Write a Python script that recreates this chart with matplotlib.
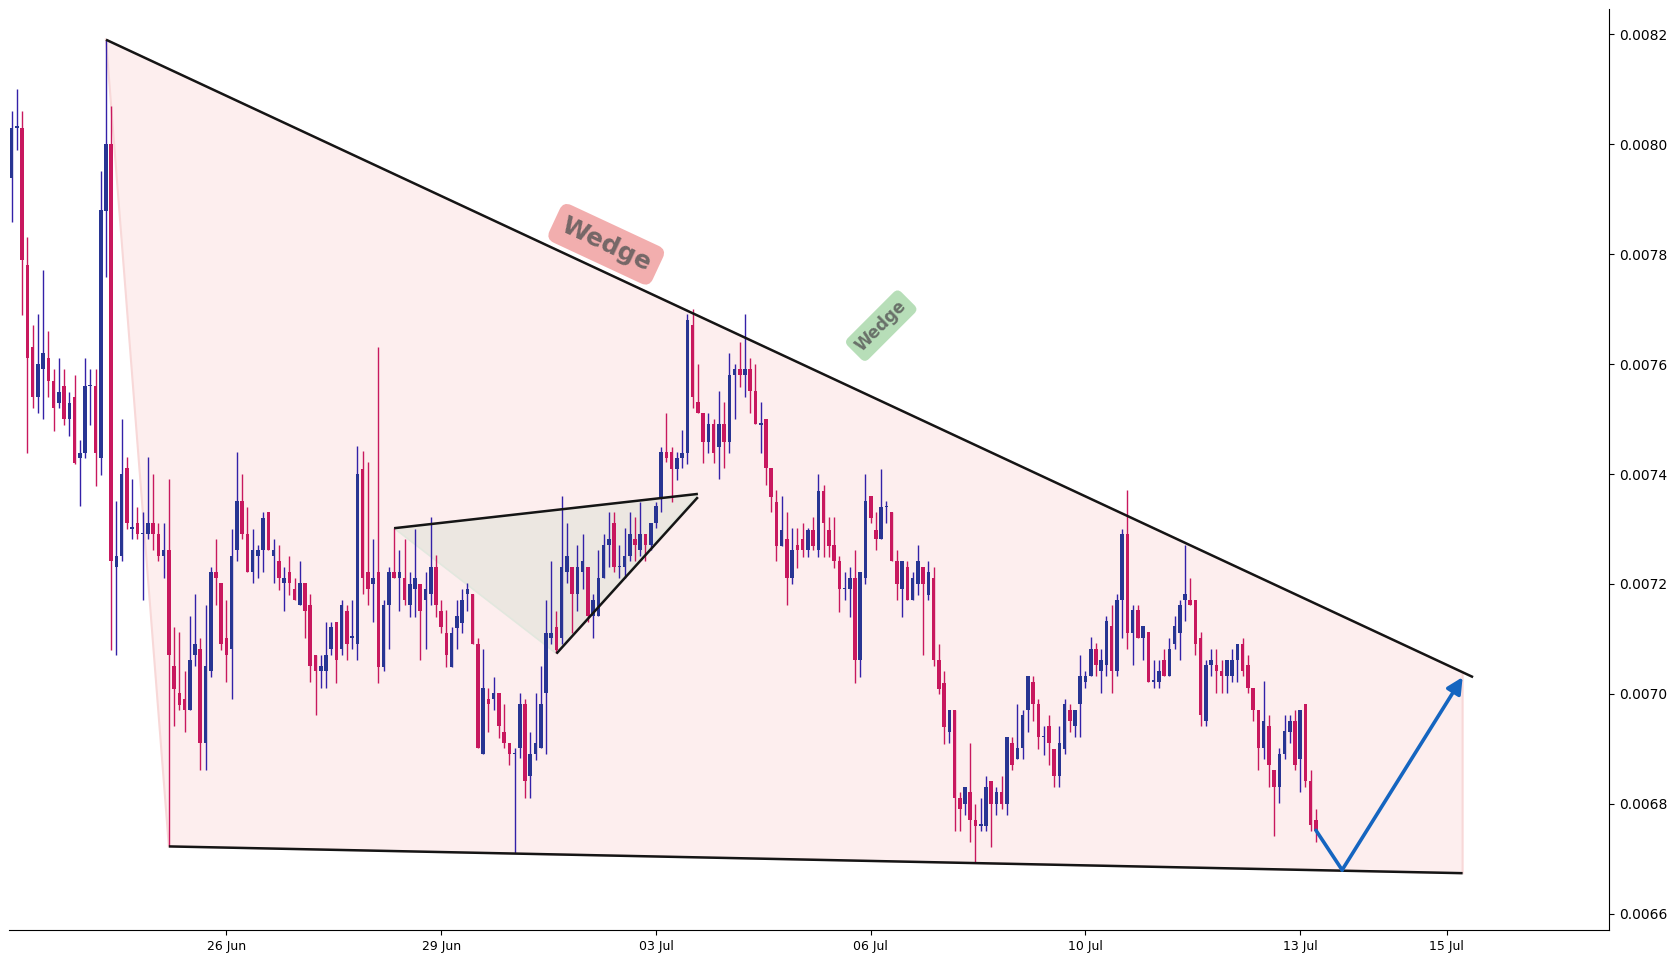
import numpy as np
import matplotlib
matplotlib.use("Agg")
import matplotlib.pyplot as plt
from matplotlib.ticker import FixedLocator, FormatStrFormatter

# candle prices, in units of 1e-4
opens_e4 = [
    79.39, 80.30, 80.30, 77.81, 76.31, 75.40, 75.91, 76.11, 75.70, 75.30,
    75.61, 75.00, 75.40, 74.30, 74.39, 75.60, 75.61, 74.30, 78.79, 80.01,
    72.31, 72.50, 74.11, 73.00, 73.11, 72.91, 72.91, 73.11, 72.91, 72.50,
    72.61, 70.51, 70.02, 69.91, 69.70, 70.70, 70.82, 69.11, 70.41, 72.22,
    72.02, 71.02, 70.82, 72.61, 73.51, 72.91, 72.22, 72.51, 72.61, 73.31,
    72.51, 72.41, 72.02, 72.22, 71.91, 71.61, 72.02, 71.62, 70.71, 70.41,
    70.41, 70.81, 71.31, 70.81, 71.50, 71.02, 70.91, 74.10, 72.22, 71.99,
    72.22, 70.49, 71.61, 72.22, 72.10, 72.11, 71.61, 71.90, 72.00, 71.70,
    71.81, 72.31, 71.50, 71.11, 70.49, 71.20, 71.29, 71.81, 71.81, 70.91,
    68.90, 69.91, 69.91, 70.01, 69.30, 69.10, 68.90, 69.01, 69.82, 68.50,
    68.91, 69.01, 70.01, 71.01, 71.21, 71.02, 72.21, 72.31, 71.82, 72.21,
    72.31, 71.41, 71.41, 72.11, 72.71, 73.11, 72.31, 72.31, 72.51, 72.82,
    72.62, 72.91, 72.71, 73.11, 73.56, 74.40, 74.40, 74.10, 74.30, 74.39,
    76.71, 75.31, 75.11, 74.59, 74.91, 74.50, 74.91, 74.59, 75.80, 75.91,
    75.80, 75.91, 75.51, 74.90, 75.00, 74.11, 73.50, 72.69, 72.81, 72.10,
    72.71, 72.81, 72.61, 72.99, 72.61, 73.70, 72.99, 72.71, 72.41, 71.90,
    71.90, 72.10, 70.61, 72.10, 73.60, 72.99, 72.81, 73.40, 73.31, 72.41,
    71.90, 72.31, 71.70, 72.00, 72.31, 71.80, 72.10, 70.61, 70.20, 69.30,
    69.71, 68.11, 68.00, 68.21, 67.71, 67.60, 67.60, 68.41, 68.00, 68.21,
    68.00, 69.11, 68.81, 69.01, 69.71, 70.21, 69.81, 69.21, 69.41, 69.00,
    68.51, 69.00, 69.71, 69.42, 69.81, 70.21, 70.32, 70.82, 70.41, 70.52,
    71.23, 70.41, 71.71, 72.91, 71.11, 71.52, 71.01, 71.12, 70.22, 70.21,
    70.62, 70.32, 70.91, 71.11, 71.71, 71.71, 71.71, 71.01, 69.50, 70.52,
    70.52, 70.42, 70.32, 70.32, 70.62, 70.91, 70.52, 70.11, 69.71, 69.01,
    69.42, 68.62, 68.31, 68.91, 69.30, 69.51, 68.81, 69.81, 68.42, 67.71,
]
highs_e4 = [
    80.61, 81.00, 80.61, 78.32, 76.72, 76.92, 77.72, 76.61, 75.91, 76.11,
    75.91, 75.50, 75.81, 74.61, 76.11, 75.91, 75.91, 79.52, 81.90, 80.70,
    73.51, 75.00, 74.31, 73.91, 73.40, 73.31, 74.31, 74.00, 73.11, 73.11,
    73.91, 71.22, 71.12, 70.42, 71.42, 71.82, 71.02, 71.62, 72.31, 72.82,
    72.02, 71.71, 73.00, 74.40, 74.00, 73.40, 73.00, 72.71, 73.31, 73.31,
    72.82, 72.71, 72.31, 72.51, 72.11, 72.41, 72.02, 71.82, 70.71, 70.70,
    71.31, 71.31, 71.31, 71.70, 71.61, 71.70, 74.51, 74.41, 74.21, 72.82,
    76.32, 71.70, 72.31, 73.02, 72.61, 72.82, 72.22, 73.00, 72.00, 72.22,
    73.21, 72.52, 71.70, 71.52, 71.22, 71.70, 71.90, 72.02, 71.81, 71.01,
    70.81, 70.11, 70.31, 70.01, 69.81, 69.10, 69.01, 70.01, 69.91, 69.31,
    70.01, 70.51, 71.71, 72.42, 71.51, 73.60, 73.11, 72.31, 72.71, 72.91,
    72.31, 71.82, 72.62, 72.91, 73.31, 73.31, 72.71, 73.01, 73.31, 73.21,
    73.50, 72.91, 73.11, 73.50, 74.50, 75.11, 74.50, 74.40, 74.80, 76.91,
    77.00, 76.00, 75.11, 75.11, 75.00, 75.51, 75.31, 76.20, 76.00, 76.40,
    76.91, 76.11, 76.00, 75.31, 75.00, 74.11, 73.71, 73.60, 73.31, 73.01,
    73.01, 73.11, 73.01, 73.21, 74.00, 73.80, 73.21, 73.21, 72.51, 72.21,
    72.31, 72.61, 72.21, 74.00, 73.60, 73.31, 74.10, 73.51, 73.31, 72.61,
    72.41, 72.41, 72.21, 72.71, 72.31, 72.41, 72.31, 70.91, 70.42, 69.71,
    69.71, 68.21, 68.31, 69.11, 68.00, 68.11, 68.51, 68.41, 68.31, 68.51,
    69.21, 69.21, 69.81, 69.71, 70.32, 70.32, 69.91, 69.41, 69.62, 69.00,
    69.41, 69.91, 69.81, 69.71, 70.71, 70.42, 71.03, 70.92, 70.82, 71.42,
    71.62, 71.81, 73.00, 73.71, 71.62, 71.62, 71.23, 71.12, 70.62, 70.62,
    70.82, 71.02, 71.42, 71.71, 72.71, 72.11, 71.71, 71.12, 70.62, 70.82,
    70.82, 70.62, 70.62, 70.82, 70.91, 71.01, 70.71, 70.11, 69.71, 70.23,
    69.62, 68.62, 69.01, 69.62, 69.62, 69.71, 69.71, 69.81, 68.62, 67.91,
]
lows_e4 = [
    78.59, 79.90, 76.90, 74.39, 75.20, 75.11, 75.00, 75.40, 74.79, 75.20,
    74.90, 74.70, 74.18, 73.42, 74.30, 74.90, 73.79, 73.99, 77.59, 70.80,
    70.70, 72.41, 73.00, 72.82, 72.82, 71.70, 72.82, 72.61, 72.41, 72.11,
    67.23, 69.41, 69.71, 69.30, 69.70, 70.50, 68.61, 68.61, 70.31, 71.61,
    70.80, 70.21, 69.91, 72.41, 72.82, 72.22, 72.02, 72.11, 72.22, 72.61,
    72.02, 71.89, 71.50, 71.80, 71.71, 71.61, 71.02, 70.21, 69.62, 70.11,
    70.11, 70.70, 70.20, 70.70, 70.61, 70.81, 70.61, 71.81, 71.61, 71.30,
    70.20, 70.41, 70.81, 72.10, 71.50, 71.61, 71.40, 71.40, 70.61, 70.81,
    71.61, 71.40, 71.11, 70.49, 70.49, 70.81, 71.11, 71.50, 70.91, 69.01,
    68.90, 69.30, 69.70, 69.20, 69.01, 68.70, 67.10, 68.83, 68.10, 68.10,
    68.80, 69.01, 68.91, 70.90, 70.74, 70.90, 72.02, 71.11, 71.51, 71.91,
    71.30, 71.02, 71.41, 72.11, 72.31, 72.21, 72.11, 72.11, 72.41, 72.41,
    72.51, 72.41, 72.62, 73.01, 73.31, 74.21, 73.50, 73.90, 74.11, 74.19,
    75.20, 75.11, 74.20, 74.39, 74.20, 73.91, 74.11, 74.39, 75.00, 75.59,
    75.40, 75.11, 74.91, 74.39, 73.80, 73.31, 72.41, 72.69, 71.61, 72.00,
    72.29, 72.49, 72.49, 72.61, 72.49, 72.49, 72.49, 72.29, 71.49, 71.70,
    71.40, 70.20, 70.30, 72.00, 73.10, 72.61, 72.81, 73.10, 72.41, 71.70,
    71.40, 71.70, 71.70, 71.80, 70.71, 71.70, 70.51, 70.00, 69.09, 69.11,
    67.50, 67.50, 67.80, 67.30, 66.93, 67.50, 67.50, 67.21, 67.80, 67.91,
    67.80, 68.61, 68.81, 68.81, 69.30, 69.50, 69.00, 68.89, 68.71, 68.31,
    68.31, 68.91, 69.30, 69.21, 69.21, 70.11, 70.32, 70.32, 70.01, 70.32,
    70.01, 70.32, 71.02, 70.81, 70.52, 71.01, 70.62, 70.21, 70.11, 70.11,
    70.32, 70.32, 70.81, 70.62, 71.32, 71.62, 70.71, 69.41, 69.41, 70.32,
    70.01, 70.01, 70.01, 70.21, 70.21, 70.32, 70.01, 69.50, 68.62, 68.81,
    68.31, 67.41, 68.01, 68.81, 69.11, 68.62, 68.21, 68.31, 67.50, 67.30,
]
closes_e4 = [
    80.29, 80.32, 77.90, 76.11, 75.40, 76.01, 76.21, 75.70, 75.20, 75.50,
    75.00, 75.30, 74.20, 74.39, 75.61, 75.62, 74.39, 78.81, 80.01, 72.41,
    72.51, 74.00, 73.11, 73.03, 72.91, 72.93, 73.11, 72.91, 72.50, 72.61,
    70.70, 70.09, 69.80, 69.70, 70.62, 70.91, 69.11, 70.51, 72.22, 72.11,
    70.90, 70.70, 72.51, 73.51, 72.91, 72.22, 72.61, 72.61, 73.20, 72.61,
    72.61, 72.11, 72.11, 72.02, 71.71, 72.02, 71.50, 70.51, 70.41, 70.51,
    70.70, 71.22, 70.61, 71.61, 70.91, 71.04, 74.00, 72.11, 71.90, 72.11,
    70.49, 71.61, 72.22, 72.10, 72.22, 71.70, 72.00, 72.11, 71.50, 71.90,
    72.31, 71.61, 71.22, 70.70, 71.11, 71.42, 71.70, 71.90, 70.91, 69.01,
    70.11, 69.81, 70.01, 69.42, 69.10, 68.90, 68.92, 69.81, 68.41, 68.91,
    69.11, 69.82, 71.10, 71.11, 70.80, 72.31, 72.51, 71.82, 72.31, 72.41,
    71.41, 71.71, 72.11, 72.71, 72.82, 72.31, 72.33, 72.51, 72.91, 72.71,
    72.91, 72.71, 73.11, 73.41, 74.40, 74.30, 74.10, 74.30, 74.39, 76.80,
    75.40, 75.11, 74.59, 74.91, 74.39, 74.91, 74.59, 75.80, 75.91, 75.80,
    75.91, 75.51, 74.91, 74.92, 74.11, 73.59, 72.69, 72.99, 72.10, 72.61,
    72.61, 72.61, 72.99, 72.69, 73.70, 73.10, 72.69, 72.41, 71.90, 71.92,
    72.10, 70.61, 72.21, 73.51, 73.20, 72.81, 73.40, 73.42, 72.41, 72.00,
    72.41, 71.70, 72.10, 72.41, 72.00, 72.21, 70.61, 70.09, 69.40, 69.71,
    68.11, 67.91, 68.31, 67.70, 67.60, 67.62, 68.31, 68.00, 68.21, 68.00,
    69.21, 68.71, 69.01, 69.62, 70.32, 69.81, 69.21, 69.22, 69.11, 68.51,
    69.11, 69.81, 69.50, 69.71, 70.32, 70.32, 70.82, 70.52, 70.62, 71.32,
    70.41, 71.71, 72.91, 71.11, 71.52, 71.01, 71.23, 70.21, 70.23, 70.42,
    70.32, 70.82, 71.23, 71.62, 71.81, 71.62, 70.91, 69.62, 70.52, 70.62,
    70.41, 70.32, 70.62, 70.62, 70.91, 70.41, 70.11, 69.71, 69.01, 69.51,
    68.71, 68.31, 68.91, 69.32, 69.51, 68.71, 69.71, 68.41, 67.61, 67.50,
]

date_ticks = [41, 82, 123, 164, 205, 246, 274]
date_labels = ["26 Jun", "29 Jun", "03 Jul", "06 Jul", "10 Jul", "13 Jul", "15 Jul"]

# pattern drawings: bar index / price (1e-4)
wedge_top_x = [18, 279]
wedge_top_y = [81.903, 70.304]
wedge_bot_x = [30, 277]
wedge_bot_y = [67.224, 66.737]
tri_top_x = [73, 131]
tri_top_y = [73.014, 73.638]
tri_bot_x = [104, 131]
tri_bot_y = [70.733, 73.579]
proj_x = [249, 254, 277]
proj_y = [67.517, 66.795, 70.304]

UP = "#283593"
UP_WICK = "#3321a8"
DOWN = "#c8185e"
E4 = 1e-4

fig = plt.figure(figsize=(16.8, 9.6), dpi=100)
ax = fig.add_axes([0.0051, 0.0313, 0.9528, 0.9597])

o = np.array(opens_e4) * E4
h = np.array(highs_e4) * E4
l = np.array(lows_e4) * E4
c = np.array(closes_e4) * E4
x = np.arange(len(o))
up = c >= o

# wedge area
fill_end = wedge_bot_x[1]
top_end = np.interp(fill_end, wedge_top_x, wedge_top_y)
ax.fill([wedge_top_x[0], fill_end, fill_end, wedge_bot_x[0]],
        np.array([wedge_top_y[0], top_end, wedge_bot_y[1], wedge_bot_y[0]]) * E4,
        facecolor="#fdeeee", edgecolor="#f8d8d8", lw=1.5, zorder=1)
# triangle area
ax.fill([tri_top_x[0], tri_top_x[1], tri_bot_x[0]],
        np.array([tri_top_y[0], tri_top_y[1], tri_bot_y[0]]) * E4,
        facecolor="#ece7e1", edgecolor="#e2e7de", lw=1.2, zorder=1.5)

# candles
ax.vlines(x[up], l[up], h[up], colors=UP_WICK, lw=1.0, zorder=3)
ax.vlines(x[~up], l[~up], h[~up], colors=DOWN, lw=1.0, zorder=3)
body = np.maximum(np.abs(c - o), 2.5e-6)
ax.bar(x, body, bottom=np.minimum(o, c), width=0.68,
       color=np.where(up, UP, DOWN), linewidth=0, zorder=4)

# trend lines
for lx, ly in [(wedge_top_x, wedge_top_y), (wedge_bot_x, wedge_bot_y),
               (tri_top_x, tri_top_y), (tri_bot_x, tri_bot_y)]:
    ax.plot(lx, np.array(ly) * E4, color="#151515", lw=1.8, zorder=5,
            solid_capstyle="butt")

# projection arrow
ax.plot(proj_x[:2], np.array(proj_y[:2]) * E4, color="#1565c0", lw=2.6,
        zorder=6, solid_capstyle="round")
ax.annotate("", xy=(proj_x[2], proj_y[2] * E4), xytext=(proj_x[1], proj_y[1] * E4),
            arrowprops=dict(arrowstyle="-|>", color="#1565c0", lw=2.6,
                            mutation_scale=24, shrinkA=0, shrinkB=0),
            zorder=6)

ax.text(113.5, 78.18 * E4, "Wedge", rotation=-25, ha="center", va="center",
        fontsize=18, fontweight="bold", color="#555555", alpha=0.8,
        rotation_mode="anchor", zorder=7,
        bbox=dict(boxstyle="round,pad=0.35", fc="#ef9a9a", ec="none", alpha=0.8))
ax.text(166, 76.70 * E4, "Wedge", rotation=45, ha="center", va="center",
        fontsize=12, fontweight="bold", color="#555555", alpha=0.8,
        rotation_mode="anchor", zorder=7,
        bbox=dict(boxstyle="round,pad=0.35", fc="#a5d6a7", ec="none", alpha=0.8))

ax.set_xlim(-0.6, 305)
ax.set_ylim(0.0065704, 0.0082468)
ax.spines["top"].set_visible(False)
ax.spines["left"].set_visible(False)
ax.yaxis.tick_right()
ax.yaxis.set_major_locator(FixedLocator(np.arange(66, 82.5, 2) * E4))
ax.yaxis.set_major_formatter(FormatStrFormatter("%.4f"))
ax.set_xticks(date_ticks)
ax.set_xticklabels(date_labels)
ax.tick_params(axis="y", labelsize=10)
ax.tick_params(axis="x", labelsize=9)

fig.savefig("out.png", dpi=100)
